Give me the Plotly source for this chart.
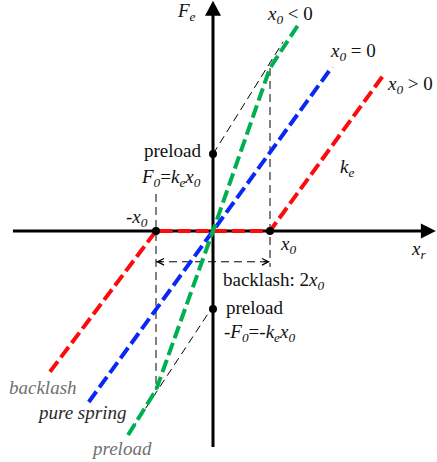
import plotly.graph_objects as go

# units: x0 = 1 on both axes (schematic force / displacement sketch)
green_x = [-1.49, -1.0, 0.0, 1.0, 1.49]
green_y = [-3.58, -2.79, 0.0, 2.86, 3.61]
blue_x = [-2.18, 2.09]
blue_y = [-3.0, 2.88]
red_x = [-2.86, -1.0, 1.0, 2.98]
red_y = [-2.47, 0.0, 0.0, 2.72]

# thin black dashed construction lines
guide_up_x = [0.0, 1.23]
guide_up_y = [1.35, 3.32]
guide_lo_x = [-0.1, -1.49]
guide_lo_y = [-1.47, -3.58]
vline_pos_x = [1.0, 1.0]
vline_pos_y = [2.86, -0.63]
vline_neg_x = [-1.0, -1.0]
vline_neg_y = [0.65, -2.79]
backlash_x = [-1.0, 1.0]
backlash_y = [-0.54, -0.54]

dot_x = [0.0, 0.0, -1.0, 1.0]
dot_y = [1.35, -1.37, 0.0, 0.0]

x_range = [-3.737, 3.930]
y_range = [-4.053, 4.053]

FONT = "Liberation Serif"
fig = go.Figure()

# axes
fig.add_trace(go.Scatter(x=[-3.51, 3.75], y=[0, 0], mode="lines",
                         line=dict(color="black", width=3), hoverinfo="skip"))
fig.add_trace(go.Scatter(x=[0, 0], y=[-3.79, 3.85], mode="lines",
                         line=dict(color="black", width=3), hoverinfo="skip"))
fig.add_shape(type="path", xref="x", yref="y", xsizemode="pixel", ysizemode="pixel",
              xanchor=3.91, yanchor=0, path="M0,0 L-15,7.5 L-15,-7.5 Z",
              fillcolor="black", line=dict(width=0))
fig.add_shape(type="path", xref="x", yref="y", xsizemode="pixel", ysizemode="pixel",
              xanchor=0, yanchor=4.04, path="M0,0 L-8,-15 L8,-15 Z",
              fillcolor="black", line=dict(width=0))

thin = dict(color="black", width=1, dash="8px,5px")
for gx, gy in [(guide_up_x, guide_up_y), (guide_lo_x, guide_lo_y),
               (vline_pos_x, vline_pos_y), (vline_neg_x, vline_neg_y),
               (backlash_x, backlash_y)]:
    fig.add_trace(go.Scatter(x=gx, y=gy, mode="lines", line=thin, hoverinfo="skip"))

dash = "13px,5px"
fig.add_trace(go.Scatter(x=red_x, y=red_y, mode="lines",
                         line=dict(color="#ff0a0a", width=4, dash=dash)))
fig.add_trace(go.Scatter(x=blue_x, y=blue_y, mode="lines",
                         line=dict(color="#0a28f5", width=4, dash=dash)))
fig.add_trace(go.Scatter(x=green_x, y=green_y, mode="lines",
                         line=dict(color="#00b050", width=4, dash=dash)))
fig.add_trace(go.Scatter(x=dot_x, y=dot_y, mode="markers",
                         marker=dict(color="black", size=8)))

# backlash double arrow heads
for hx, ax in [(1.0, -8), (-1.0, 8)]:
    fig.add_annotation(x=hx, y=backlash_y[0], ax=ax, ay=0, text="", showarrow=True,
                       arrowhead=5, arrowsize=1.3, arrowwidth=1, arrowcolor="black")

def label(x, y, text, anchor="center", color="#111111"):
    fig.add_annotation(x=x, y=y, text=text, showarrow=False, xanchor=anchor,
                       yanchor="middle", font=dict(family=FONT, size=19, color=color))

x0 = "<i>x</i><sub><i>0</i></sub>"
label(-0.46, 3.84, "<i>F</i><sub><i>e</i></sub>")
label(1.35, 3.79, x0 + " &lt; 0")
label(2.46, 3.14, x0 + " = 0")
label(3.46, 2.56, x0 + " &gt; 0")
label(2.35, 1.10, "<i>k</i><sub><i>e</i></sub>")
label(-0.17, 1.42, "preload", anchor="right")
label(-0.17, 0.93, "<i>F</i><sub><i>0</i></sub>=<i>k</i><sub><i>e</i></sub>" + x0, anchor="right")
label(-1.10, 0.23, "-" + x0, anchor="right")
label(1.32, -0.25, x0)
label(3.60, -0.33, "<i>x</i><sub><i>r</i></sub>")
label(0.14, -0.88, "backlash: 2" + x0, anchor="left")
label(0.19, -1.35, "preload", anchor="left")
label(0.16, -1.79, "-<i>F</i><sub><i>0</i></sub>=-<i>k</i><sub><i>e</i></sub>" + x0, anchor="left")
label(-3.62, -2.74, "<i>backlash</i>", anchor="left", color="#707070")
label(-3.12, -3.19, "<i>pure spring</i>", anchor="left", color="#2a2a2a")
label(-2.18, -3.81, "<i>preload</i>", anchor="left", color="#707070")

fig.update_layout(
    width=437, height=462,
    margin=dict(l=0, r=0, t=0, b=0),
    plot_bgcolor="white", paper_bgcolor="white",
    showlegend=False,
    xaxis=dict(range=x_range, visible=False, fixedrange=True),
    yaxis=dict(range=y_range, visible=False, fixedrange=True),
)
# the page body has a default 8px margin; drop it so the figure fills the window
fig.write_html("out.html", config={"displayModeBar": False},
               post_script="document.body.style.margin='0';")
